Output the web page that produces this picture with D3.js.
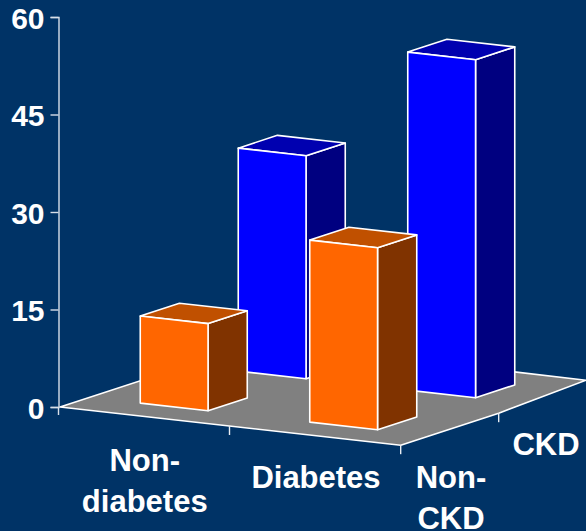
<!DOCTYPE html>
<html>
<head>
<meta charset="utf-8">
<script src="https://cdn.jsdelivr.net/npm/d3@7"></script>
<style>
  html, body { margin: 0; padding: 0; background: #003366; }
  svg { display: block; }
  text { font-family: "Liberation Sans", Arial, sans-serif; font-weight: bold; fill: #fff; }
</style>
</head>
<body>
<svg id="chart" width="586" height="531"></svg>
<script>
const categories = ["Non-diabetes", "Diabetes"];
const groups = ["Non-CKD", "CKD"];
const yTicks = [0, 15, 30, 45, 60];

const nonCkdValues = [13.4, 28];
const ckdValues = [34.3, 52];

const categoryLines = [["Non-", "diabetes"], ["Diabetes"]];
const groupLines = [["Non-", "CKD"], ["CKD"]];

const palette = {
  "Non-CKD": { front: "#ff6600", side: "#803300", top: "#c05000" },
  "CKD": { front: "#0000ff", side: "#000080", top: "#0000b0" }
};

const svg = d3.select("#chart");
const W = 586, H = 531;
svg.append("rect").attr("width", W).attr("height", H).attr("fill", "#003366");

// Oblique projection: the floor origin plus one vector per category and one per depth group.
const origin = [60, 407];
const catVec = [169.5, 19];
const depthVec = [98, -32];

const yScale = d3.scaleLinear().domain([0, 60]).range([407, 17]);
const catBand = d3.scaleBand().domain(categories).range([0, 2]).paddingInner(0.6).paddingOuter(0.3);
const depthBand = d3.scaleBand().domain(groups).range([0, 2]).paddingInner(0.6).paddingOuter(0.3);

// c, d in floor units, v is the value above the floor.
function project(c, d, v = 0) {
  const rise = yScale(0) - yScale(v);
  return [
    origin[0] + c * catVec[0] + d * depthVec[0],
    origin[1] + c * catVec[1] + d * depthVec[1] - rise
  ];
}
const poly = pts => pts.map(p => p.join(",")).join(" ");

const edge = { stroke: "#fff", "stroke-width": 1.6, "stroke-linejoin": "round" };
const applyEdge = s => { Object.entries(edge).forEach(([k, v]) => s.attr(k, v)); return s; };

// Floor: the far corner pinches in a little, as it does under perspective
const floorEnd = 2.01;
applyEdge(svg.append("polygon")
  .attr("points", poly([
    project(0, 0), project(floorEnd, 0), project(floorEnd, 1),
    project(1.95, 1.995), project(0, 2.03)
  ]))
  .attr("fill", "#808080"));

// Vertical axis with its ticks
const axisG = svg.append("g").attr("transform", "translate(58.5,0)");
axisG.call(d3.axisLeft(yScale).tickValues(yTicks).tickSize(8).tickPadding(6).tickFormat(d3.format("d")));
axisG.select(".domain").attr("stroke", "#d8dfe8").attr("stroke-width", 1.4);
axisG.selectAll(".tick line").attr("stroke", "#d8dfe8").attr("stroke-width", 1.4);
axisG.selectAll(".tick text")
  .attr("font-size", 30).attr("font-family", null).attr("dy", "0.37em").attr("fill", "#fff");
svg.append("line").attr("x1", 58.5).attr("x2", 58.5).attr("y1", 407).attr("y2", 415)
  .attr("stroke", "#d8dfe8").attr("stroke-width", 1.4);

// Ticks below the front and right floor edges
const floorTicks = [project(1, 0), project(floorEnd, 0), project(floorEnd, 1)];
svg.selectAll(".floor-tick").data(floorTicks).join("line")
  .attr("class", "floor-tick")
  .attr("x1", d => d[0]).attr("x2", d => d[0])
  .attr("y1", d => d[1]).attr("y2", d => d[1] + 9)
  .attr("stroke", "#e8ecf2").attr("stroke-width", 1.4);

// One row per depth group, drawn back to front so nearer bars overlap farther ones.
const rows = [
  { group: "CKD", values: ckdValues },
  { group: "Non-CKD", values: nonCkdValues }
];

function drawBar(cat, group, value) {
  const c0 = catBand(cat), c1 = c0 + catBand.bandwidth();
  const d0 = depthBand(group), d1 = d0 + depthBand.bandwidth();
  const colors = palette[group];
  const g = svg.append("g").attr("class", "bar");
  const face = (pts, fill) => applyEdge(g.append("polygon").attr("points", poly(pts)).attr("fill", fill));
  face([project(c1, d0), project(c1, d1), project(c1, d1, value), project(c1, d0, value)], colors.side);
  face([project(c0, d0, value), project(c1, d0, value), project(c1, d1, value), project(c0, d1, value)], colors.top);
  face([project(c0, d0), project(c1, d0), project(c1, d0, value), project(c0, d0, value)], colors.front);
}
rows.forEach(r => categories.forEach((cat, i) => drawBar(cat, r.group, r.values[i])));

// Multi-line labels along the floor edges
function drawLabel(lines, anchor, dx, firstOffset) {
  const t = svg.append("text").attr("text-anchor", "middle").attr("font-size", 31);
  lines.forEach((line, i) => {
    t.append("tspan")
      .attr("x", anchor[0] + dx)
      .attr("y", anchor[1] + firstOffset + i * 40.5)
      .text(line);
  });
}
drawLabel(categoryLines[0], project(0.5, 0), 0, 54.5);
drawLabel(categoryLines[1], project(1.5, 0), 1.75, 52.5);
drawLabel(groupLines[0], project(2, 0.5), 3, 59);
drawLabel(groupLines[1], project(2, 1.5), 0, 58);
</script>
</body>
</html>
